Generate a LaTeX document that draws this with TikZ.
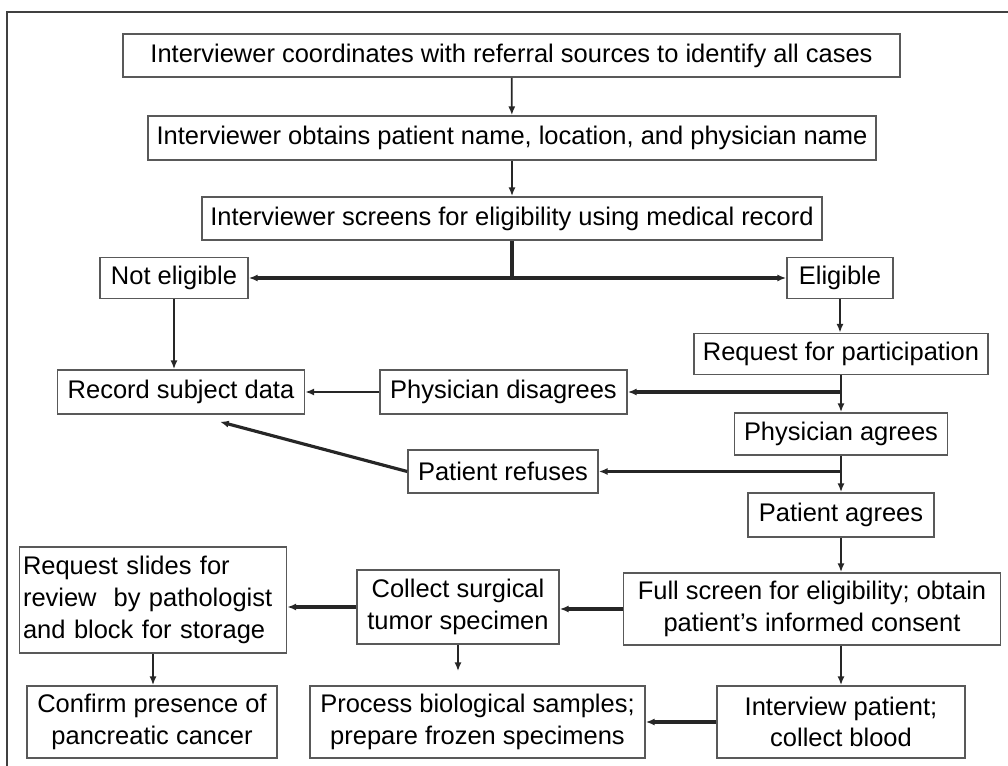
\documentclass[tikz,border=0pt]{standalone}
\usepackage{fontspec}
\setmainfont{Liberation Sans}
\usetikzlibrary{arrows.meta}

\tikzset{
  box/.style={draw=black!65,line width=0.9pt,fill=white,inner sep=2pt,align=center,
    font=\fontsize{14.5}{18}\selectfont},
  arr/.style={-{Latex[length=5pt,width=4pt]},line width=1pt,black!85},
  harr/.style={arr,line width=1.8pt}
}

\begin{document}
\begin{tikzpicture}[x=0.02cm,y=-0.02cm]
  \useasboundingbox (0,0) rectangle (1008,766);
  \draw[black!75,line width=1.2pt] (7,766) -- (7,12) -- (1008,12);

  \node[box,minimum width=15.54cm,minimum height=0.86cm] (ident) at (511.5,55.5) {Interviewer coordinates with referral sources to identify all cases};
  \node[box,minimum width=14.56cm,minimum height=0.88cm] (obtain) at (512,138) {Interviewer obtains patient name, location, and physician name};
  \node[box,minimum width=12.4cm,minimum height=0.86cm] (screen) at (512,218.5) {Interviewer screens for eligibility using medical record};
  \node[box,minimum width=2.96cm,minimum height=0.82cm] (noelig) at (174,278) {Not eligible};
  \node[box,minimum width=2.12cm,minimum height=0.82cm] (elig) at (840,278) {Eligible};
  \node[box,minimum width=5.88cm,minimum height=0.82cm] (request) at (841,354) {Request for participation};
  \node[box,minimum width=4.94cm,minimum height=0.88cm] (record) at (181,392) {Record subject data};
  \node[box,minimum width=4.94cm,minimum height=0.88cm] (phydis) at (503.5,392) {Physician disagrees};
  \node[box,minimum width=4.26cm,minimum height=0.84cm] (phyagr) at (841,434) {Physician agrees};
  \node[box,minimum width=3.8cm,minimum height=0.86cm] (patref) at (503,471.5) {Patient refuses};
  \node[box,minimum width=3.72cm,minimum height=0.88cm] (patagr) at (841,515) {Patient agrees};
  \node[box,align=left,text width=5.2cm,minimum height=2.12cm] (slides) at (153,600) {Request slides for\\review\ \ by pathologist\\and block for storage};
  \node[box,minimum width=4.04cm,minimum height=1.48cm] (collect) at (458,607) {Collect surgical\\tumor specimen};
  \node[box,minimum width=7.54cm,minimum height=1.44cm] (full) at (812,609) {Full screen for eligibility; obtain\\patient's informed consent};
  \node[box,minimum width=5cm,minimum height=1.44cm] (confirm) at (152,722) {Confirm presence of\\pancreatic cancer};
  \node[box,minimum width=6.7cm,minimum height=1.44cm] (process) at (477.5,722) {Process biological samples;\\prepare frozen specimens};
  \node[box,minimum width=4.96cm,minimum height=1.44cm] (interview) at (841,722) {Interview patient;\\collect blood};

  \draw[arr] (ident) -- (obtain);
  \draw[arr] (obtain) -- (screen);
  \coordinate (fork) at (screen.south |- noelig.east);
  \draw[line width=1.8pt,black!85] (screen.south) -- (fork);
  \draw[harr] (fork) -- (noelig);
  \draw[harr] (fork) -- (elig);
  \draw[arr] (noelig) -- (noelig |- record.north);
  \draw[arr] (elig) -- (elig |- request.north);
  \draw[arr] (request) -- (phyagr);
  \coordinate (spine1) at (request.south |- phydis.east);
  \draw[harr] (spine1) -- (phydis);
  \draw[arr,line width=1.4pt] (phydis) -- (record);
  \draw[arr] (phyagr) -- (patagr);
  \coordinate (spine2) at (phyagr.south |- patref.east);
  \draw[harr] (spine2) -- (patref);
  \coordinate (rectip) at ([xshift=0.78cm,yshift=-0.14cm]record.south);
  \draw[harr] (patref.west) -- (rectip);
  \draw[arr] (patagr) -- (full.north -| patagr);
  \draw[harr] (full.west) -- (full.west -| collect.east);
  \draw[harr] (collect.west) -- (collect.west -| slides.east);
  \draw[arr] (slides) -- (slides |- confirm.north);
  \draw[arr,shorten >=8pt] (collect) -- (collect |- process.north);
  \draw[arr] (full.south -| interview) -- (interview);
  \draw[harr] (interview) -- (process);
\end{tikzpicture}
\end{document}
